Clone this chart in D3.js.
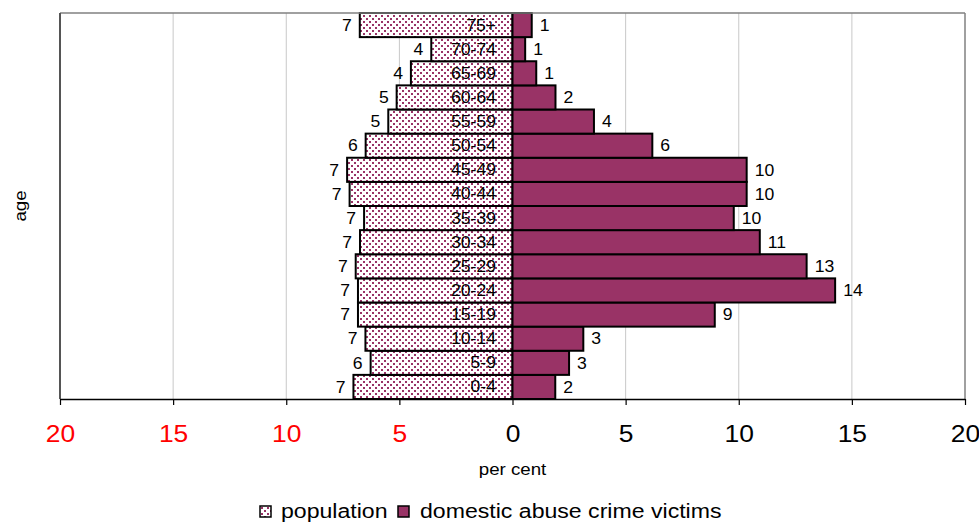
<!DOCTYPE html>
<html>
<head>
<meta charset="utf-8">
<script src="https://cdn.jsdelivr.net/npm/d3@7"></script>
<style>
  html, body { margin: 0; padding: 0; background: #fff; }
  svg { display: block; font-family: "Liberation Sans", Arial, sans-serif; }
</style>
</head>
<body>
<svg id="chart" width="979" height="522"></svg>
<script>
// Age bands, youngest first
const ageGroups = ["0-4", "5-9", "10-14", "15-19", "20-24", "25-29", "30-34", "35-39",
                   "40-44", "45-49", "50-54", "55-59", "60-64", "65-69", "70-74", "75+"];
// Share of the population in each age band (per cent)
const populationPct = [7.03, 6.27, 6.5, 6.83, 6.83, 6.93, 6.74, 6.56,
                       7.2, 7.31, 6.49, 5.49, 5.12, 4.49, 3.59, 6.75];
// Share of domestic abuse crime victims in each age band (per cent)
const victimsPct = [1.89, 2.5, 3.13, 8.94, 14.26, 13.0, 10.93, 9.78,
                    10.35, 10.35, 6.18, 3.6, 1.9, 1.05, 0.56, 0.85];
const xTickValues = [-20, -15, -10, -5, 0, 5, 10, 15, 20];
const seriesNames = ["population", "domestic abuse crime victims"];

const plum = "#993366";
const stretch = 1.1; // slightly widened lettering

const svg = d3.select("#chart");
const plot = { left: 60, right: 965, top: 13, bottom: 399 };

const x = d3.scaleLinear().domain([-20, 20]).range([plot.left, plot.right]);
const y = d3.scaleBand().domain(ageGroups.slice().reverse())
  .range([plot.top, plot.bottom]).padding(0);

// dotted fill for the population bars
const defs = svg.append("defs");
const pat = defs.append("pattern").attr("id", "dots")
  .attr("patternUnits", "userSpaceOnUse").attr("width", 6).attr("height", 6);
pat.append("rect").attr("width", 6).attr("height", 6).attr("fill", "#fff");
pat.append("rect").attr("x", 0).attr("y", 0).attr("width", 2).attr("height", 2).attr("fill", plum);
pat.append("rect").attr("x", 3).attr("y", 3).attr("width", 2).attr("height", 2).attr("fill", plum);

// helper: text placed at (px,py), widened horizontally around its anchor
function label(sel, px, py) {
  return sel.attr("transform", `translate(${px},${py}) scale(${stretch},1)`);
}

// vertical gridlines
svg.append("g").selectAll("line")
  .data(xTickValues.filter(v => v !== 0 && Math.abs(v) !== 20))
  .join("line")
  .attr("x1", d => x(d)).attr("x2", d => x(d))
  .attr("y1", plot.top).attr("y2", plot.bottom)
  .attr("stroke", "#c8c8c8").attr("stroke-width", 1);

const rows = ageGroups.map((g, i) => ({ g, pop: populationPct[i], vic: victimsPct[i] }));

// population bars (left of zero)
svg.append("g").selectAll("rect")
  .data(rows).join("rect")
  .attr("x", d => x(-d.pop)).attr("y", d => y(d.g))
  .attr("width", d => x(0) - x(-d.pop)).attr("height", y.bandwidth())
  .attr("fill", "url(#dots)").attr("stroke", "#000").attr("stroke-width", 2);

// victim bars (right of zero)
svg.append("g").selectAll("rect")
  .data(rows).join("rect")
  .attr("x", x(0)).attr("y", d => y(d.g))
  .attr("width", d => x(d.vic) - x(0)).attr("height", y.bandwidth())
  .attr("fill", plum).attr("stroke", "#000").attr("stroke-width", 2);

// plot frame
svg.append("line").attr("x1", plot.left).attr("x2", plot.right)
  .attr("y1", plot.top).attr("y2", plot.top).attr("stroke", "#808080").attr("stroke-width", 1.5);
svg.append("line").attr("x1", plot.right).attr("x2", plot.right)
  .attr("y1", plot.top).attr("y2", plot.bottom).attr("stroke", "#808080").attr("stroke-width", 1.5);
svg.append("line").attr("x1", plot.left).attr("x2", plot.left)
  .attr("y1", plot.top).attr("y2", plot.bottom).attr("stroke", "#555").attr("stroke-width", 2);

// bottom axis, magnitudes either side of zero
const axis = svg.append("g").attr("transform", `translate(0,${plot.bottom})`)
  .call(d3.axisBottom(x).tickValues(xTickValues).tickFormat(d => Math.abs(d))
    .tickSize(6).tickSizeOuter(0).tickPadding(20));
axis.select(".domain").attr("stroke", "#000").attr("stroke-width", 1.5);
axis.selectAll(".tick line").attr("stroke", "#000").attr("stroke-width", 1.2);
axis.selectAll(".tick text")
  .attr("font-size", 24).attr("font-family", "Liberation Sans, Arial, sans-serif")
  .attr("fill", d => d < 0 ? "#ff0000" : "#000")
  .attr("transform", `scale(${stretch},1)`);

const fmt = v => String(Math.round(v));

// age band names inside the population bars
svg.append("g").selectAll("text")
  .data(rows).join("text")
  .each(function (d) { label(d3.select(this), 496, y(d.g) + y.bandwidth() / 2 + 5.5); })
  .attr("text-anchor", "end").attr("font-size", 16).attr("fill", "#000")
  .text(d => d.g);

// population values
svg.append("g").selectAll("text")
  .data(rows).join("text")
  .each(function (d) { label(d3.select(this), x(-d.pop) - 8, y(d.g) + y.bandwidth() / 2 + 5.8); })
  .attr("text-anchor", "end").attr("font-size", 16).attr("fill", "#000")
  .text(d => fmt(d.pop));

// victim values
svg.append("g").selectAll("text")
  .data(rows).join("text")
  .each(function (d) { label(d3.select(this), x(d.vic) + 8, y(d.g) + y.bandwidth() / 2 + 5.8); })
  .attr("text-anchor", "start").attr("font-size", 16).attr("fill", "#000")
  .text(d => fmt(d.vic));

// axis titles
label(svg.append("text"), x(0), 475).attr("text-anchor", "middle")
  .attr("font-size", 17).text("per cent");
svg.append("text")
  .attr("transform", `translate(26,${(plot.top + plot.bottom) / 2}) rotate(-90) scale(${stretch},1)`)
  .attr("text-anchor", "middle").attr("font-size", 17).text("age");

// legend
const lg = svg.append("g");
lg.append("rect").attr("x", 260).attr("y", 506).attr("width", 11).attr("height", 11)
  .attr("fill", "url(#dots)").attr("stroke", "#000").attr("stroke-width", 1.5);
label(lg.append("text"), 281, 518).attr("font-size", 21).text(seriesNames[0]);
lg.append("rect").attr("x", 398).attr("y", 506).attr("width", 11).attr("height", 11)
  .attr("fill", plum).attr("stroke", "#000").attr("stroke-width", 1.5);
label(lg.append("text"), 420, 518).attr("font-size", 21).text(seriesNames[1]);
</script>
</body>
</html>
